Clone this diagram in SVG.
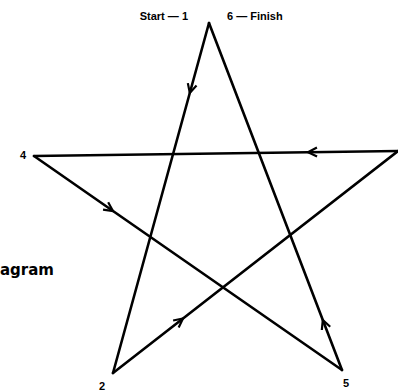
<svg xmlns="http://www.w3.org/2000/svg" width="398" height="392" viewBox="0 0 398 392">
<style>
.edge{fill:none;stroke:#000;stroke-width:2.6;stroke-linecap:round;stroke-linejoin:round;marker-mid:url(#chev)}
.lbl{font-family:"Liberation Sans","DejaVu Sans",sans-serif;font-weight:bold;font-size:11px;fill:#000}
.big{font-family:"DejaVu Sans","Liberation Sans",sans-serif;font-weight:bold;font-size:15px;fill:#000}
</style>
<defs>
<marker id="chev" markerUnits="userSpaceOnUse" markerWidth="20" markerHeight="20" refX="0" refY="0" orient="auto" overflow="visible">
<path d="M -9 -4.5 L 0 0 L -9 4.5" fill="none" stroke="#000" stroke-width="2.2" stroke-linejoin="miter"/>
</marker>
</defs>
<rect width="398" height="392" fill="#fff"/>
<g id="connectors">
<path class="edge" d="M 209 23 L 189.8 93 L 113 373"/>
<path class="edge" d="M 113 373 L 183 318.5 L 398 151"/>
<path class="edge" d="M 398 151 L 308 152.2 L 34 156"/>
<path class="edge" d="M 34 156 L 113 211 L 342 370"/>
<path class="edge" d="M 342 370 L 322.8 320 L 209 23"/>
</g>
<g id="node-start"><text class="lbl" x="188" y="20" text-anchor="end">Start — 1</text></g>
<g id="node-finish"><text class="lbl" x="227" y="20">6 — Finish</text></g>
<g id="node-4"><text class="lbl" x="20" y="159">4</text></g>
<g id="node-2"><text class="lbl" x="99" y="390">2</text></g>
<g id="node-5"><text class="lbl" x="343" y="387">5</text></g>
<g id="caption"><text class="big" x="0" y="275" textLength="54" lengthAdjust="spacingAndGlyphs">agram</text></g>
</svg>
